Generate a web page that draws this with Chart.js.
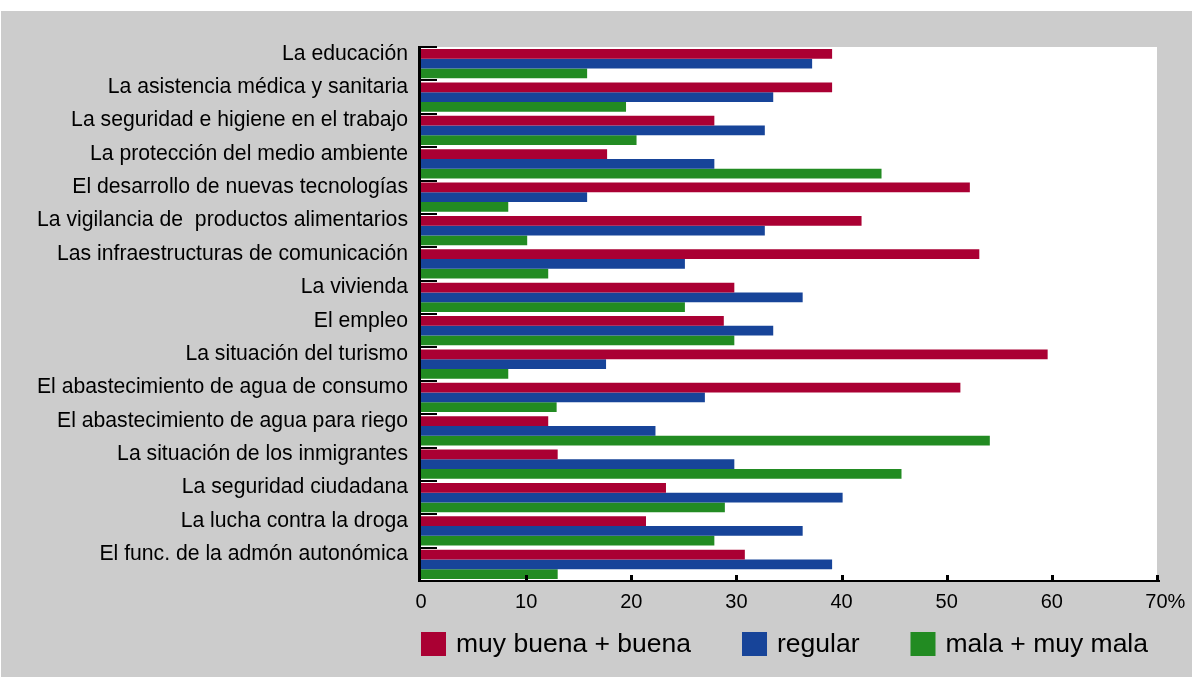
<!DOCTYPE html>
<html>
<head>
<meta charset="utf-8">
<script src="https://cdn.jsdelivr.net/npm/chart.js@4.4.1/dist/chart.umd.min.js"></script>
<style>
  html, body { margin: 0; padding: 0; background: #ffffff; }
  #wrap { position: absolute; left: 0; top: 0; width: 1192px; height: 677px; }
</style>
</head>
<body>
<div id="wrap"><canvas id="c" width="1192" height="677"></canvas></div>
<script>
const categories = [
  "La educación",
  "La asistencia médica y sanitaria",
  "La seguridad e higiene en el trabajo",
  "La protección del medio ambiente",
  "El desarrollo de nuevas tecnologías",
  "La vigilancia de  productos alimentarios",
  "Las infraestructuras de comunicación",
  "La vivienda",
  "El empleo",
  "La situación del turismo",
  "El abastecimiento de agua de consumo",
  "El abastecimiento de agua para riego",
  "La situación de los inmigrantes",
  "La seguridad ciudadana",
  "La lucha contra la droga",
  "El func. de la admón autonómica"
];
const seriesNames = ["muy buena + buena", "regular", "mala + muy mala"];
const muyBuenaBuena = [39.1, 39.1, 27.9, 17.7, 52.2, 41.9, 53.1, 29.8, 28.8, 59.6, 51.3, 12.1, 13.0, 23.3, 21.4, 30.8];
const regular       = [37.2, 33.5, 32.7, 27.9, 15.8, 32.7, 25.1, 36.3, 33.5, 17.6, 27.0, 22.3, 29.8, 40.1, 36.3, 39.1];
const malaMuyMala   = [15.8, 19.5, 20.5, 43.8,  8.3, 10.1, 12.1, 25.1, 29.8,  8.3, 12.9, 54.1, 45.7, 28.9, 27.9, 13.0];
const xTickValues = [0, 10, 20, 30, 40, 50, 60, 70];
const xTickLabels = ["0", "10", "20", "30", "40", "50", "60", "70%"];
const colors = ["#AA0033", "#174499", "#228B22"];

const FONT = "'Liberation Sans', Arial, Helvetica, sans-serif";

const framePlugin = {
  id: 'frame',
  beforeDraw(chart) {
    const ctx = chart.ctx, a = chart.chartArea;
    ctx.save();
    ctx.fillStyle = '#ffffff';
    ctx.fillRect(0, 0, chart.width, chart.height);
    ctx.fillStyle = '#cccccc';
    ctx.fillRect(1, 11, chart.width - 1, chart.height - 11);
    ctx.fillStyle = '#ffffff';
    ctx.fillRect(a.left, a.top, a.right - a.left, a.bottom - a.top);
    ctx.restore();
  },
  afterDraw(chart) {
    const ctx = chart.ctx, a = chart.chartArea;
    const xs = chart.scales.x;
    ctx.save();
    ctx.fillStyle = '#000000';
    // left axis
    ctx.fillRect(a.left - 3, a.top, 3, a.bottom - a.top + 1);
    // category boundary ticks (inward)
    const n = categories.length;
    const band = (a.bottom - a.top) / n;
    for (let i = 0; i <= n; i++) {
      const y = a.top + i * band;
      ctx.fillRect(a.left - 3, Math.round(y) - 1, 19, 2);
    }
    // bottom axis
    ctx.fillRect(a.left - 3, a.bottom - 1, a.right - a.left + 6, 2);
    xTickValues.forEach(v => {
      if (v === 0) return;
      const x = xs.getPixelForValue(v);
      ctx.fillRect(Math.round(x) - 1, a.bottom - 6, 3, 6);
    });
    // legend
    ctx.font = "26.5px " + FONT;
    ctx.textBaseline = 'middle';
    ctx.textAlign = 'left';
    let x = a.left;
    const yc = 644;
    chart.data.datasets.forEach((ds, i) => {
      ctx.fillStyle = ds.backgroundColor;
      ctx.fillRect(x, yc - 12, 25, 24);
      ctx.fillStyle = '#000000';
      ctx.fillText(ds.label, x + 35, yc + 1);
      x += 35 + ctx.measureText(ds.label).width + 51;
    });
    ctx.restore();
  }
};

new Chart(document.getElementById('c'), {
  type: 'bar',
  data: {
    labels: categories,
    datasets: [
      { label: seriesNames[0], data: muyBuenaBuena, backgroundColor: colors[0] },
      { label: seriesNames[1], data: regular, backgroundColor: colors[1] },
      { label: seriesNames[2], data: malaMuyMala, backgroundColor: colors[2] }
    ]
  },
  options: {
    indexAxis: 'y',
    responsive: false,
    animation: false,
    devicePixelRatio: 1,
    categoryPercentage: 0.88,
    barPercentage: 1.0,
    layout: { padding: { left: 0, top: 47, right: 35, bottom: 56 } },
    plugins: { legend: { display: false }, tooltip: { enabled: false } },
    scales: {
      y: {
        type: 'category',
        offset: true,
        grid: { display: false, drawTicks: false },
        border: { display: false },
        ticks: {
          color: '#000000',
          font: { family: FONT, size: 21.2 },
          padding: 13,
          labelOffset: -10,
          autoSkip: false
        },
        afterFit(scale) { scale.width = 421; scale.paddingTop = 0; scale.paddingBottom = 0; }
      },
      x: {
        type: 'linear',
        min: 0,
        max: 70,
        grid: { display: false, drawTicks: false },
        border: { display: false },
        afterBuildTicks(scale) { scale.ticks = xTickValues.map(v => ({ value: v })); },
        ticks: {
          color: '#000000',
          font: { family: FONT, size: 20 },
          padding: 9,
          maxRotation: 0,
          autoSkip: false,
          callback(value) {
            const i = xTickValues.indexOf(value);
            const t = i >= 0 ? xTickLabels[i] : '';
            return t.endsWith('%') ? '   ' + t : t;
          }
        },
        afterFit(scale) { scale.height = 40; scale.paddingLeft = 0; scale.paddingRight = 0; }
      }
    }
  },
  plugins: [framePlugin]
});
</script>
</body>
</html>
